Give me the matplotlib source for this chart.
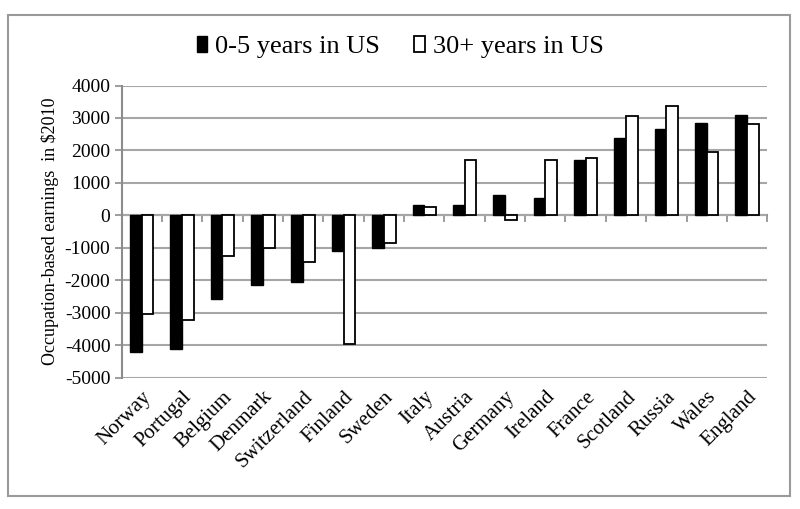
import numpy as np
import matplotlib
matplotlib.use("Agg")
import matplotlib.pyplot as plt
from matplotlib.patches import Rectangle

countries = ["Norway", "Portugal", "Belgium", "Denmark", "Switzerland", "Finland",
             "Sweden", "Italy", "Austria", "Germany", "Ireland", "France",
             "Scotland", "Russia", "Wales", "England"]
recent = [-4220, -4130, -2590, -2150, -2060, -1100, -1010, 320, 320, 615, 530,
          1700, 2390, 2650, 2860, 3080]
longterm = [-3050, -3210, -1240, -990, -1450, -3950, -860, 260, 1720, -145, 1720,
            1770, 3060, 3360, 1940, 2800]
yticks = np.arange(-5000, 4001, 1000)

plt.rcParams['font.family'] = ['Liberation Serif', 'DejaVu Serif']

fig = plt.figure(figsize=(8.0, 5.09), dpi=100)
ax = fig.add_axes([0.152, 0.258, 0.807, 0.574])

# outer frame like the exported Excel chart
fig.patches.append(Rectangle((0.0095, 0.025), 0.978, 0.946, transform=fig.transFigure,
                             fill=False, edgecolor='#9a9a9a', linewidth=1.5))

x = np.arange(len(countries))
w = 0.29
ax.bar(x - w / 2, recent, width=w, color='black', edgecolor='black', linewidth=1.0,
       label='0-5 years in US', zorder=3)
ax.bar(x + w / 2, longterm, width=w, color='white', edgecolor='black', linewidth=1.3,
       label='30+ years in US', zorder=3)

ax.set_xlim(-0.5, len(countries) - 0.5)
ax.set_ylim(-5000, 4000)
ax.set_yticks(yticks)
ax.set_yticklabels([str(v) for v in yticks], fontsize=14)
ax.yaxis.grid(True, color='#a6a6a6', linewidth=1.5, zorder=0)
ax.tick_params(axis='y', length=5, color='#8c8c8c', width=1.2, pad=3)

ax.set_xticks(x)
ax.set_xticklabels(countries, rotation=45, ha='right', rotation_mode='anchor', fontsize=15)
ax.tick_params(axis='x', length=0, pad=7)

for s in ['top', 'right', 'bottom']:
    ax.spines[s].set_visible(False)
ax.spines['left'].set_color('#8c8c8c')
ax.spines['left'].set_linewidth(1.5)

# category axis drawn at zero with tick marks between categories
sec = ax.secondary_xaxis(0, transform=ax.transData)
sec.set_xticks(np.arange(-0.5, len(countries), 1.0))
sec.tick_params(axis='x', direction='out', length=5, color='#8c8c8c', width=1.2,
                labelbottom=False, labeltop=False, bottom=True, top=False)
sec.spines['bottom'].set_color('#8c8c8c')
sec.spines['bottom'].set_linewidth(1.5)
sec.spines['top'].set_color('#8c8c8c')
sec.spines['top'].set_linewidth(1.5)

ax.set_ylabel("Occupation-based earnings  in $2010", fontsize=13, labelpad=4)

fig.legend(loc='center', bbox_to_anchor=(0.5, 0.908), ncol=2, frameon=False, fontsize=19,
           handlelength=0.4, handleheight=0.55, handletextpad=0.3, columnspacing=1.3)

fig.savefig("out.png", dpi=100)
